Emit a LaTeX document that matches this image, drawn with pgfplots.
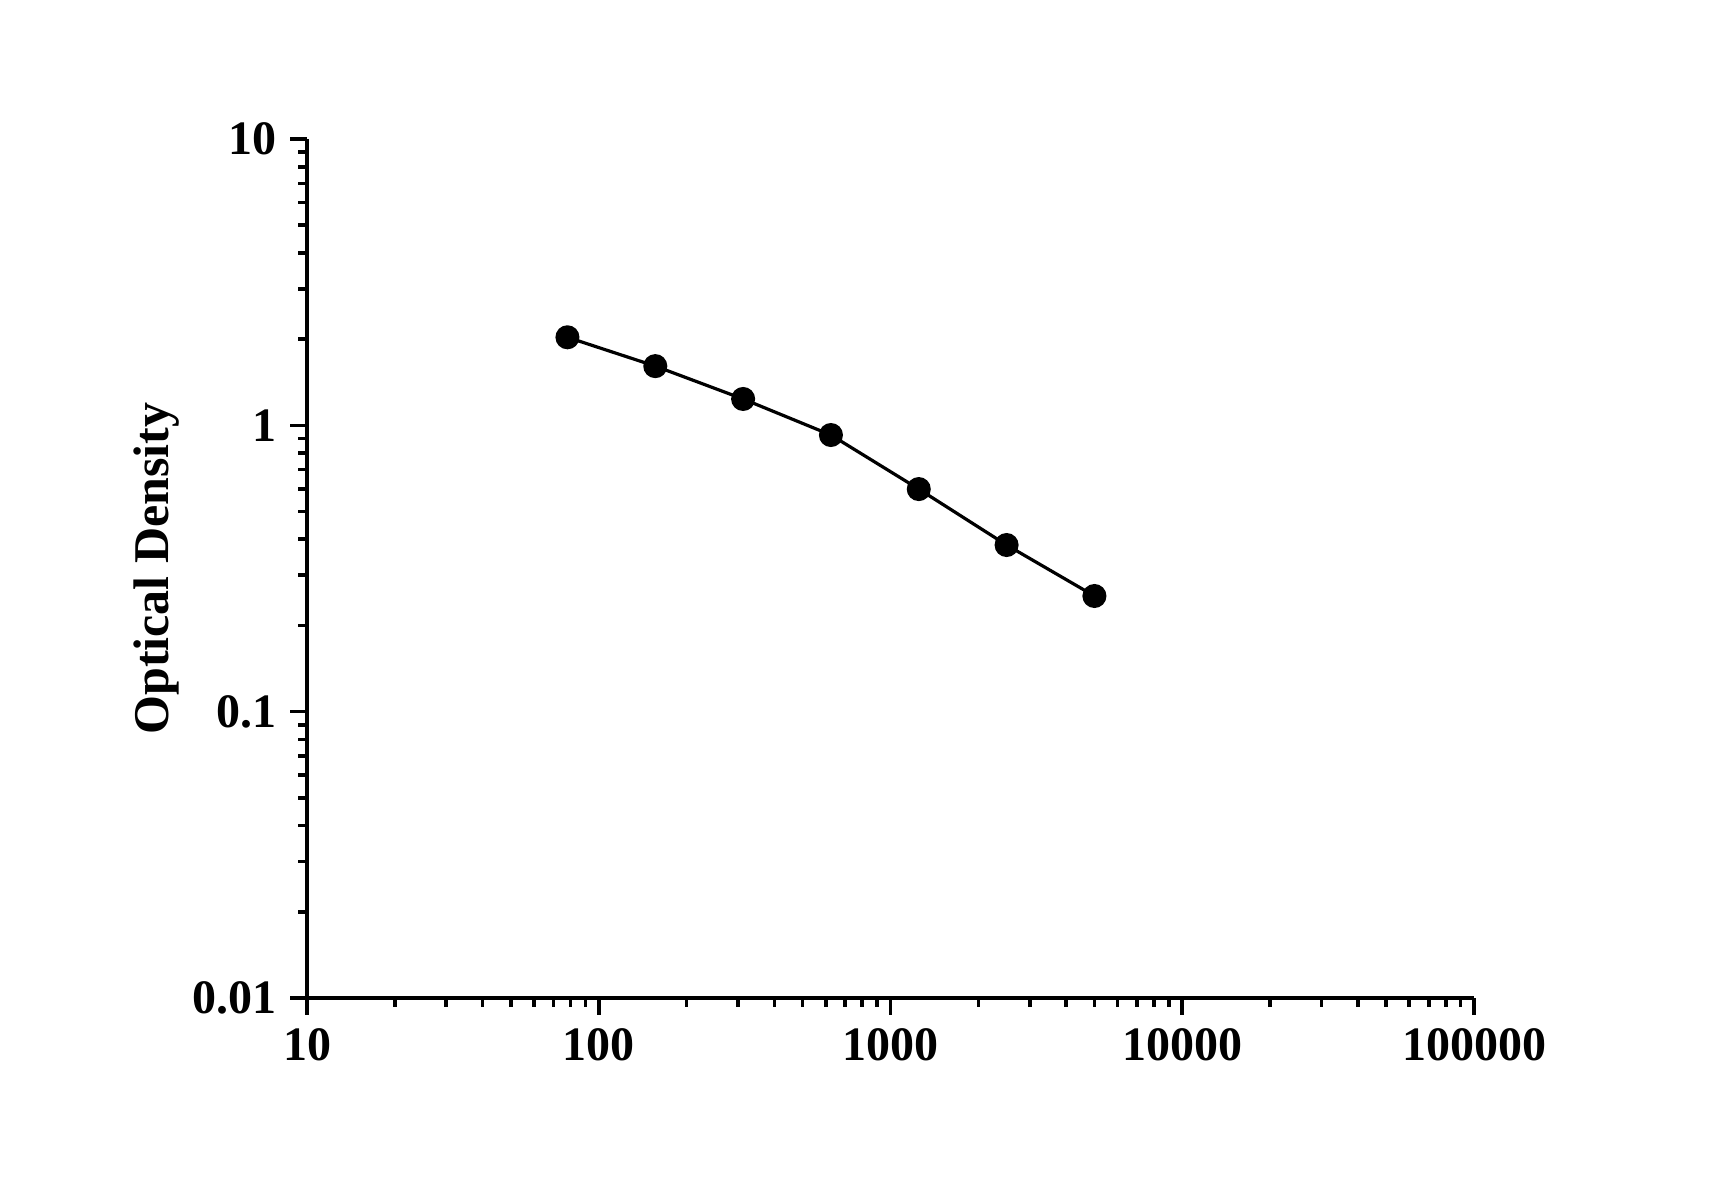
\documentclass[border=0pt]{standalone}
\usepackage{pgfplots}
\pgfplotsset{compat=1.18}
\usepackage{fontspec}
\setmainfont{Liberation Serif}
\begin{document}
\begin{tikzpicture}
\path[use as bounding box] (-76.75pt,-49.5pt) rectangle (351.25pt,249.5pt);
\begin{axis}[
  at={(0,0)}, anchor=south west,
  scale only axis, width=291.75pt, height=214.75pt,
  xmode=log, ymode=log,
  xmin=10, xmax=100000, ymin=0.01, ymax=10,
  axis lines*=left,
  axis line style={line width=1pt},
  tick align=outside,
  major tick length=4.2pt, minor tick length=2.2pt,
  every tick/.style={black, line width=0.9pt},
  xtick={10,100,1000,10000,100000},
  xticklabels={10,100,1000,10000,100000},
  minor xtick={20,30,40,50,60,70,80,90,200,300,400,500,600,700,800,900,2000,3000,4000,5000,6000,7000,8000,9000,20000,30000,40000,50000,60000,70000,80000,90000},
  ytick={0.01,0.1,1,10},
  yticklabels={0.01,0.1,1,10},
  minor ytick={0.02,0.03,0.04,0.05,0.06,0.07,0.08,0.09,0.2,0.3,0.4,0.5,0.6,0.7,0.8,0.9,2,3,4,5,6,7,8,9},
  tick label style={font=\fontsize{12}{14}\selectfont\bfseries},
  ylabel={Optical Density},
  ylabel style={font=\fontsize{12.5}{15}\selectfont\bfseries, at={(axis description cs:-0.097,0.5)}, anchor=south, rotate=0},
  clip=false,
]
\addplot[black, line width=0.8pt, mark=*, mark size=2.6pt, mark options={fill=black, solid}]
  coordinates {(78.125,2.03) (156.25,1.61) (312.5,1.236) (625,0.925) (1250,0.599) (2500,0.382) (5000,0.2535)};
\end{axis}
\end{tikzpicture}
\end{document}
